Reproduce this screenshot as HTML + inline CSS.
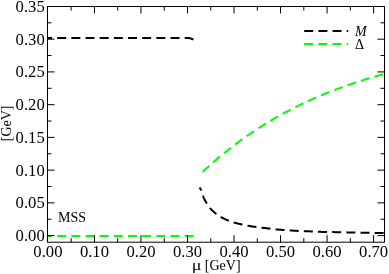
<!DOCTYPE html>
<html><head><meta charset="utf-8"><style>
html,body{margin:0;padding:0;background:#fff;}
svg{display:block;will-change:transform;}
text{font-family:"Liberation Serif",serif;fill:#000;}
</style></head><body>
<svg width="389" height="274" viewBox="0 0 389 274">
<rect width="389" height="274" fill="#fff"/>
<defs><clipPath id="c"><rect x="47.5" y="6.5" width="337.0" height="235.7"/></clipPath></defs>
<g clip-path="url(#c)" fill="none" stroke-width="2" stroke-dasharray="9.0 5.17">
<path d="M43.00,38.00 L45.00,38.00 L47.00,38.00 L49.00,38.00 L51.00,38.00 L53.00,38.00 L55.00,38.00 L57.00,38.00 L59.00,38.00 L61.00,38.00 L63.00,38.00 L65.00,38.00 L67.00,38.00 L69.00,38.00 L71.00,38.00 L73.00,38.00 L75.00,38.00 L77.00,38.00 L79.00,38.00 L81.00,38.00 L83.00,38.00 L85.00,38.00 L87.00,38.00 L89.00,38.00 L91.00,38.00 L93.00,38.00 L95.00,38.00 L97.00,38.00 L99.00,38.00 L101.00,38.00 L103.00,38.00 L105.00,38.00 L107.00,38.00 L109.00,38.00 L111.00,38.00 L113.00,38.00 L115.00,38.00 L117.00,38.00 L119.00,38.00 L121.00,38.00 L123.00,38.00 L125.00,38.00 L127.00,38.00 L129.00,38.00 L131.00,38.00 L133.00,38.00 L135.00,38.00 L137.00,38.00 L139.00,38.00 L141.00,38.00 L143.00,38.00 L145.00,38.00 L147.00,38.00 L149.00,38.00 L151.00,38.00 L153.00,38.00 L155.00,38.00 L157.00,38.00 L159.00,38.00 L161.00,38.00 L163.00,38.00 L165.00,38.00 L167.00,38.00 L169.00,38.00 L171.00,38.00 L173.00,38.00 L175.00,38.00 L177.00,38.00 L179.00,38.00 L181.00,38.00 L183.00,38.00 L185.00,38.00 L187.00,38.00 L188.00,38.00 L189.00,38.10 L190.00,38.30 L191.00,38.60 L192.00,38.95 L193.00,39.35 L193.80,39.70" stroke="#000" stroke-dashoffset="0"/>
<path d="M43,236 L193.6,236" stroke="#00ff00" stroke-dashoffset="0"/>
<path d="M199.60,187.50 L199.86,187.88 L200.12,188.28 L200.38,188.73 L200.64,189.23 L200.91,189.81 L201.17,190.45 L201.43,191.13 L201.69,191.85 L201.95,192.60 L202.21,193.38 L202.47,194.16 L202.73,194.93 L202.99,195.70 L203.25,196.45 L203.52,197.17 L203.78,197.85 L204.04,198.48 L204.30,199.05 L204.56,199.56 L204.82,200.04 L205.08,200.52 L205.34,200.99 L205.60,201.45 L205.86,201.90 L206.13,202.35 L206.39,202.78 L206.65,203.21 L206.91,203.63 L207.17,204.04 L207.43,204.44 L207.69,204.84 L207.95,205.23 L208.21,205.60 L208.47,205.97 L208.74,206.34 L209.00,206.69 L209.26,207.04 L209.52,207.38 L209.78,207.71 L210.04,208.03 L210.30,208.35 L210.56,208.65 L210.82,208.95 L211.08,209.25 L211.35,209.53 L211.61,209.81 L211.87,210.08 L212.13,210.34 L212.39,210.60 L212.65,210.85 L212.91,211.09 L213.17,211.33 L213.43,211.57 L213.69,211.80 L213.96,212.04 L214.22,212.26 L214.48,212.49 L214.74,212.71 L215.00,212.93 L215.50,213.34 L216.92,214.44 L218.34,215.45 L219.76,216.38 L221.18,217.23 L222.60,218.01 L224.02,218.72 L225.44,219.36 L226.86,219.97 L228.28,220.53 L229.70,221.06 L231.12,221.55 L232.54,222.01 L233.96,222.45 L235.38,222.86 L236.80,223.24 L238.22,223.61 L239.64,223.96 L241.06,224.30 L242.48,224.62 L243.90,224.93 L245.32,225.22 L246.74,225.49 L248.16,225.75 L249.58,226.00 L251.00,226.24 L252.42,226.46 L253.84,226.67 L255.26,226.86 L256.68,227.05 L258.11,227.23 L259.53,227.40 L260.95,227.57 L262.37,227.73 L263.79,227.90 L265.21,228.07 L266.63,228.24 L268.05,228.41 L269.47,228.58 L270.89,228.75 L272.31,228.92 L273.73,229.08 L275.15,229.24 L276.57,229.39 L277.99,229.53 L279.41,229.67 L280.83,229.79 L282.25,229.91 L283.67,230.03 L285.09,230.14 L286.51,230.24 L287.93,230.35 L289.35,230.44 L290.77,230.54 L292.19,230.62 L293.61,230.70 L295.03,230.77 L296.45,230.84 L297.87,230.91 L299.29,230.97 L300.71,231.02 L302.13,231.08 L303.55,231.14 L304.97,231.19 L306.39,231.25 L307.81,231.31 L309.23,231.37 L310.65,231.44 L312.07,231.50 L313.49,231.57 L314.91,231.64 L316.33,231.70 L317.75,231.76 L319.17,231.81 L320.59,231.86 L322.01,231.90 L323.43,231.93 L324.85,231.96 L326.27,231.99 L327.69,232.01 L329.11,232.04 L330.53,232.06 L331.95,232.08 L333.37,232.10 L334.79,232.13 L336.21,232.15 L337.63,232.18 L339.05,232.21 L340.47,232.24 L341.89,232.27 L343.32,232.30 L344.74,232.33 L346.16,232.36 L347.58,232.39 L349.00,232.42 L350.42,232.45 L351.84,232.48 L353.26,232.51 L354.68,232.54 L356.10,232.58 L357.52,232.61 L358.94,232.64 L360.36,232.67 L361.78,232.70 L363.20,232.73 L364.62,232.75 L366.04,232.78 L367.46,232.81 L368.88,232.83 L370.30,232.86 L371.72,232.88 L373.14,232.91 L374.56,232.93 L375.98,232.96 L377.40,232.98 L378.82,233.01 L380.24,233.03 L381.66,233.05 L383.08,233.08 L384.50,233.10" stroke="#000" stroke-dashoffset="5.4"/>
<path d="M199.60,174.71 L200.53,173.84 L201.46,172.96 L202.39,172.10 L203.32,171.24 L204.25,170.38 L205.17,169.53 L206.10,168.68 L207.03,167.84 L207.96,167.00 L208.89,166.16 L209.82,165.34 L210.75,164.51 L211.68,163.69 L212.61,162.88 L213.54,162.07 L214.47,161.27 L215.40,160.47 L216.32,159.67 L217.25,158.88 L218.18,158.10 L219.11,157.32 L220.04,156.54 L220.97,155.77 L221.90,155.00 L222.83,154.24 L223.76,153.48 L224.69,152.73 L225.62,151.98 L226.55,151.23 L227.47,150.49 L228.40,149.75 L229.33,149.02 L230.26,148.30 L231.19,147.57 L232.12,146.86 L233.05,146.14 L233.98,145.43 L234.91,144.73 L235.84,144.03 L236.77,143.33 L237.69,142.64 L238.62,141.95 L239.55,141.26 L240.48,140.58 L241.41,139.91 L242.34,139.24 L243.27,138.57 L244.20,137.91 L245.13,137.25 L246.06,136.59 L246.99,135.94 L247.92,135.29 L248.84,134.65 L249.77,134.01 L250.70,133.38 L251.63,132.74 L252.56,132.12 L253.49,131.49 L254.42,130.87 L255.35,130.26 L256.28,129.65 L257.21,129.04 L258.14,128.44 L259.07,127.84 L259.99,127.24 L260.92,126.65 L261.85,126.06 L262.78,125.47 L263.71,124.89 L264.64,124.31 L265.57,123.74 L266.50,123.17 L267.43,122.60 L268.36,122.04 L269.29,121.48 L270.22,120.92 L271.14,120.37 L272.07,119.82 L273.00,119.28 L273.93,118.74 L274.86,118.20 L275.79,117.66 L276.72,117.13 L277.65,116.60 L278.58,116.08 L279.51,115.56 L280.44,115.04 L281.36,114.53 L282.29,114.02 L283.22,113.51 L284.15,113.00 L285.08,112.50 L286.01,112.00 L286.94,111.51 L287.87,111.02 L288.80,110.53 L289.73,110.04 L290.66,109.56 L291.59,109.08 L292.51,108.61 L293.44,108.14 L294.37,107.67 L295.30,107.20 L296.23,106.74 L297.16,106.28 L298.09,105.82 L299.02,105.36 L299.95,104.91 L300.88,104.46 L301.81,104.02 L302.74,103.58 L303.66,103.14 L304.59,102.70 L305.52,102.27 L306.45,101.83 L307.38,101.41 L308.31,100.98 L309.24,100.56 L310.17,100.14 L311.10,99.72 L312.03,99.31 L312.96,98.90 L313.88,98.49 L314.81,98.08 L315.74,97.68 L316.67,97.27 L317.60,96.88 L318.53,96.48 L319.46,96.09 L320.39,95.70 L321.32,95.31 L322.25,94.92 L323.18,94.54 L324.11,94.16 L325.03,93.78 L325.96,93.40 L326.89,93.03 L327.82,92.66 L328.75,92.29 L329.68,91.92 L330.61,91.56 L331.54,91.20 L332.47,90.84 L333.40,90.48 L334.33,90.13 L335.26,89.78 L336.18,89.43 L337.11,89.08 L338.04,88.73 L338.97,88.39 L339.90,88.05 L340.83,87.71 L341.76,87.37 L342.69,87.03 L343.62,86.70 L344.55,86.37 L345.48,86.04 L346.41,85.71 L347.33,85.39 L348.26,85.07 L349.19,84.75 L350.12,84.43 L351.05,84.11 L351.98,83.79 L352.91,83.48 L353.84,83.17 L354.77,82.86 L355.70,82.55 L356.63,82.25 L357.55,81.94 L358.48,81.64 L359.41,81.34 L360.34,81.04 L361.27,80.74 L362.20,80.45 L363.13,80.15 L364.06,79.86 L364.99,79.57 L365.92,79.28 L366.85,78.99 L367.78,78.71 L368.70,78.42 L369.63,78.14 L370.56,77.86 L371.49,77.58 L372.42,77.30 L373.35,77.03 L374.28,76.75 L375.21,76.48 L376.14,76.21 L377.07,75.93 L378.00,75.66 L378.93,75.40 L379.85,75.13 L380.78,74.86 L381.71,74.60 L382.64,74.34 L383.57,74.08 L384.50,73.81" stroke="#00ff00" stroke-dashoffset="10"/>
</g>
<path d="M71.16,242.2 V238.2 M71.16,6.5 V10.5 M94.43,242.2 V235.2 M94.43,6.5 V13.5 M117.70,242.2 V238.2 M117.70,6.5 V10.5 M140.96,242.2 V235.2 M140.96,6.5 V13.5 M164.22,242.2 V238.2 M164.22,6.5 V10.5 M187.49,242.2 V235.2 M187.49,6.5 V13.5 M210.76,242.2 V238.2 M210.76,6.5 V10.5 M234.02,242.2 V235.2 M234.02,6.5 V13.5 M257.29,242.2 V238.2 M257.29,6.5 V10.5 M280.55,242.2 V235.2 M280.55,6.5 V13.5 M303.81,242.2 V238.2 M303.81,6.5 V10.5 M327.08,242.2 V235.2 M327.08,6.5 V13.5 M350.34,242.2 V238.2 M350.34,6.5 V10.5 M373.61,242.2 V235.2 M373.61,6.5 V13.5 M47.5,235.60 H54.5 M384.5,235.60 H377.5 M47.5,219.23 H51.5 M384.5,219.23 H380.5 M47.5,202.86 H54.5 M384.5,202.86 H377.5 M47.5,186.50 H51.5 M384.5,186.50 H380.5 M47.5,170.13 H54.5 M384.5,170.13 H377.5 M47.5,153.76 H51.5 M384.5,153.76 H380.5 M47.5,137.39 H54.5 M384.5,137.39 H377.5 M47.5,121.03 H51.5 M384.5,121.03 H380.5 M47.5,104.66 H54.5 M384.5,104.66 H377.5 M47.5,88.29 H51.5 M384.5,88.29 H380.5 M47.5,71.92 H54.5 M384.5,71.92 H377.5 M47.5,55.56 H51.5 M384.5,55.56 H380.5 M47.5,39.19 H54.5 M384.5,39.19 H377.5 M47.5,22.82 H51.5 M384.5,22.82 H380.5" stroke="#000" stroke-width="1" fill="none"/>
<rect x="47.5" y="6.5" width="337.0" height="235.7" fill="none" stroke="#000" stroke-width="1"/>
<g font-size="16"><text transform="translate(47.90,257.4) scale(1.04,1)" text-anchor="middle">0.00</text><text transform="translate(94.43,257.4) scale(1.04,1)" text-anchor="middle">0.10</text><text transform="translate(140.96,257.4) scale(1.04,1)" text-anchor="middle">0.20</text><text transform="translate(187.49,257.4) scale(1.04,1)" text-anchor="middle">0.30</text><text transform="translate(234.02,257.4) scale(1.04,1)" text-anchor="middle">0.40</text><text transform="translate(280.55,257.4) scale(1.04,1)" text-anchor="middle">0.50</text><text transform="translate(327.08,257.4) scale(1.04,1)" text-anchor="middle">0.60</text><text transform="translate(373.61,257.4) scale(1.04,1)" text-anchor="middle">0.70</text><text transform="translate(44.7,241.10) scale(1.04,1)" text-anchor="end">0.00</text><text transform="translate(44.7,208.36) scale(1.04,1)" text-anchor="end">0.05</text><text transform="translate(44.7,175.63) scale(1.04,1)" text-anchor="end">0.10</text><text transform="translate(44.7,142.89) scale(1.04,1)" text-anchor="end">0.15</text><text transform="translate(44.7,110.16) scale(1.04,1)" text-anchor="end">0.20</text><text transform="translate(44.7,77.42) scale(1.04,1)" text-anchor="end">0.25</text><text transform="translate(44.7,44.69) scale(1.04,1)" text-anchor="end">0.30</text><text transform="translate(44.7,11.95) scale(1.04,1)" text-anchor="end">0.35</text></g>
<text transform="translate(191.7,269.9) scale(1.3,1)" font-size="14">μ</text><text x="204.8" y="270.4" font-size="14">[GeV]</text>
<text transform="translate(10.6,123.4) rotate(-90)" font-size="14" text-anchor="middle">[GeV]</text>
<text x="58" y="221.5" font-size="14">MSS</text>
<path d="M304.2,31 H348.2" stroke="#000" stroke-width="2" stroke-dasharray="9.0 5.17" fill="none"/>
<path d="M304.2,44 H348.2" stroke="#00ff00" stroke-width="2" stroke-dasharray="9.0 5.17" fill="none"/>
<text x="355" y="35.6" font-size="14" font-style="italic">M</text>
<text x="355" y="48.5" font-size="14">Δ</text>
</svg>
</body></html>
